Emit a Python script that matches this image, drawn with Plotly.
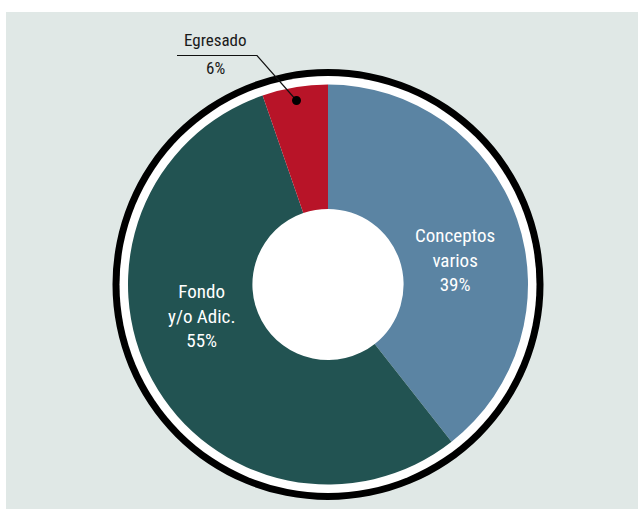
import plotly.graph_objects as go

# Data
categories = ["Conceptos varios", "Fondo y/o Adic.", "Egresado"]
values = [39.4, 55.3, 5.3]
pct_labels = ["39%", "55%", "6%"]
colors = ["#5b84a3", "#225352", "#b81428"]

W, H = 638, 509
def px(x):
    return x / W
def py(y):
    return 1 - y / H

cx, cy, r = 328, 284.5, 200
FONT = "Liberation Sans Narrow, Roboto Condensed, Liberation Sans, sans-serif"

fig = go.Figure()
fig.add_trace(go.Pie(
    labels=categories, values=values, sort=False, direction="clockwise",
    rotation=0, hole=0.378, textinfo="none", hoverinfo="label+percent",
    marker=dict(colors=colors, line=dict(width=0)),
    domain=dict(x=[px(cx - r), px(cx + r)], y=[py(cy + r), py(cy - r)]),
    showlegend=False,
))

shapes = [
    dict(type="rect", xref="paper", yref="paper", x0=px(6), x1=px(638), y0=py(509), y1=py(12),
         fillcolor="#e0e8e6", line=dict(width=0), layer="below"),
    dict(type="circle", xref="paper", yref="paper", x0=px(cx - 215.5), x1=px(cx + 215.5),
         y0=py(cy + 215.5), y1=py(cy - 215.5), fillcolor="#000000", line=dict(width=0), layer="below"),
    dict(type="circle", xref="paper", yref="paper", x0=px(cx - 208.5), x1=px(cx + 208.5),
         y0=py(cy + 208.5), y1=py(cy - 208.5), fillcolor="#ffffff", line=dict(width=0), layer="below"),
    # leader line for Egresado
    dict(type="path", xref="paper", yref="paper",
         path=f"M {px(177)},{py(55.5)} L {px(257)},{py(55.5)} L {px(296.5)},{py(100.5)}",
         line=dict(color="#111111", width=1.2), layer="above"),
    dict(type="circle", xref="paper", yref="paper", x0=px(292), x1=px(301), y0=py(105), y1=py(96),
         fillcolor="#000000", line=dict(width=0), layer="above"),
]

def ann(x, y, text, size, color):
    return dict(x=px(x), y=py(y), xref="paper", yref="paper", text=text, showarrow=False,
                xanchor="center", yanchor="middle",
                font=dict(family=FONT, size=size, color=color), align="center")

annotations = [
    ann(455, 260, f"Conceptos<br>varios<br>{pct_labels[0]}", 19, "white"),
    ann(201, 316, f"Fondo<br>y/o Adic.<br>{pct_labels[1]}", 19, "white"),
    ann(215, 40, categories[2], 17, "#1a1a1a"),
    ann(215, 68, pct_labels[2], 17, "#1a1a1a"),
]

fig.update_layout(
    width=W, height=H, margin=dict(l=0, r=0, t=0, b=0),
    paper_bgcolor="white", plot_bgcolor="white",
    shapes=shapes, annotations=annotations,
)
fig.write_html("out.html", config={"displayModeBar": False},
               post_script="document.body.style.margin='0';")
